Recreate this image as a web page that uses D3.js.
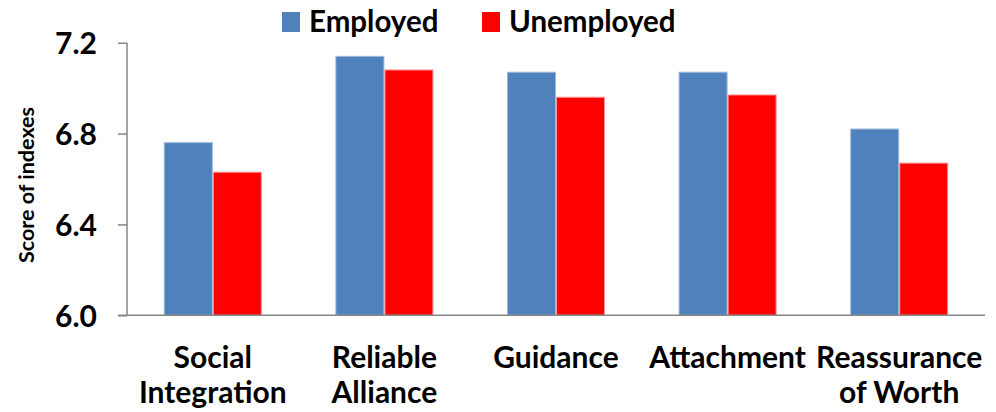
<!DOCTYPE html>
<html><head><meta charset="utf-8">
<script src="https://cdn.jsdelivr.net/npm/d3@7"></script>
<style>
html,body{margin:0;padding:0;background:#fff;}
svg{display:block;}
text{font-family:Lato,"Open Sans",sans-serif;font-weight:bold;fill:#000;}
</style></head>
<body>
<svg id="c" width="996" height="412"></svg>
<script>
const categories = [["Social","Integration"],["Reliable","Alliance"],["Guidance"],["Attachment"],["Reassurance","of Worth"]];
const seriesNames = ["Employed","Unemployed"];
const employed = [6.76, 7.14, 7.07, 7.07, 6.82];
const unemployed = [6.63, 7.08, 6.96, 6.97, 6.67];
const yTicks = [6.0, 6.4, 6.8, 7.2];
const colors = ["#4F81BD","#FF0000"];
const strokes = ["#9DB9DD","#FF9A9A"];

(function(){
const svg = d3.select("#c");
const pL = 127, pR = 985, pT = 42.7, pB = 315.3;
const catIds = categories.map((c,i)=>i);
const x = d3.scaleBand().domain(catIds).range([pL,pR]).padding(0);
const bw = x.bandwidth()/3.5;
const x1 = d3.scaleBand().domain(seriesNames).range([bw*0.75, bw*2.75]);
const y = d3.scaleLinear().domain([6.0,7.2]).range([pB, pT]);

const data = [employed, unemployed];
const g = svg.append("g");
seriesNames.forEach((s,si)=>{
  g.selectAll(null).data(data[si]).enter().append("rect")
    .attr("x",(d,i)=>x(i)+x1(s)+0.5)
    .attr("y",d=>y(d))
    .attr("width",x1.bandwidth()-1)
    .attr("height",d=>pB-y(d))
    .attr("fill",colors[si])
    .attr("stroke",strokes[si])
    .attr("stroke-width",1);
});

const yAxis = d3.axisLeft(y).tickValues(yTicks).tickFormat(d3.format(".1f")).tickSize(9).tickPadding(21);
const ya = svg.append("g").attr("transform",`translate(${pL},0)`).call(yAxis);
ya.select(".domain").attr("stroke","#868686").attr("stroke-width",1.5).attr("d",`M0,${pT}V${pB}`);
ya.selectAll(".tick line").attr("stroke","#868686").attr("stroke-width",1.5);
ya.selectAll(".tick text").attr("font-size",30).attr("font-family","Lato").attr("font-weight","bold").attr("fill","#000").attr("dy","0.36em");

svg.append("line").attr("x1",pL-9).attr("x2",pR).attr("y1",pB).attr("y2",pB)
  .attr("stroke","#868686").attr("stroke-width",1.5);

const cl = svg.append("g");
categories.forEach((lines,i)=>{
  const t = cl.append("text").attr("text-anchor","middle").attr("font-size",30)
    .attr("x", x(i)+x.bandwidth()/2);
  lines.forEach((ln,j)=>{
    t.append("tspan").attr("x", x(i)+x.bandwidth()/2).attr("y", 368+ j*35).text(ln);
  });
});

svg.append("text").attr("transform","translate(34,185) rotate(-90)")
  .attr("text-anchor","middle").attr("font-size",21.5).text("Score of indexes");

const legX = [282, 482];
seriesNames.forEach((s,si)=>{
  svg.append("rect").attr("x",legX[si]).attr("y",12).attr("width",18).attr("height",20).attr("fill",colors[si]);
  svg.append("text").attr("x",legX[si]+27).attr("y",32).attr("font-size",29.5).text(s);
});
})();
</script>
</body></html>
